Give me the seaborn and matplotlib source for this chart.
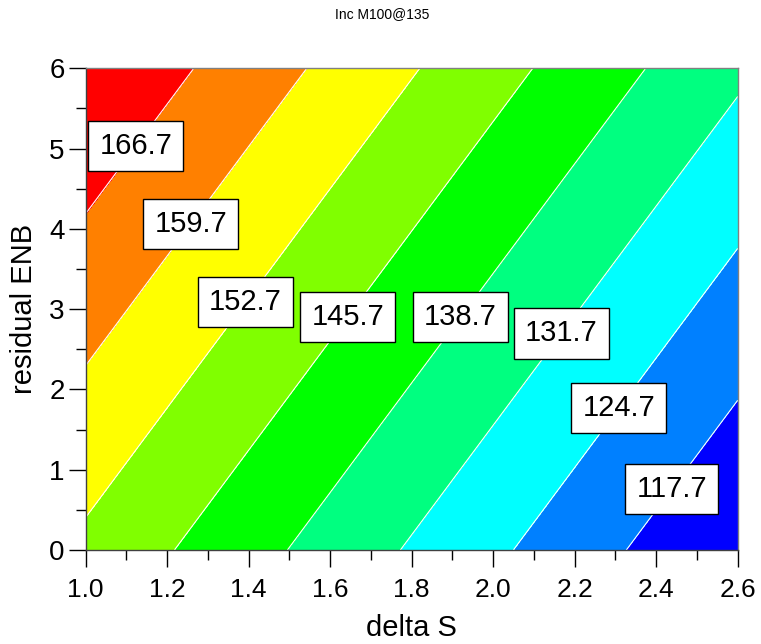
import numpy as np
import matplotlib
matplotlib.use("Agg")
import matplotlib.pyplot as plt
import seaborn as sns

# grid (z values at the grid nodes)
delta_s = [1.0, 1.4, 1.8, 2.2, 2.6]
resid_enb = [0, 2, 4, 6]
z_y0 = [151.2, 141.1, 131.0, 120.9, 110.8]
z_y2 = [158.6, 148.5, 138.4, 128.3, 118.2]
z_y4 = [166.0, 155.9, 145.8, 135.7, 125.6]
z_y6 = [173.4, 163.3, 153.2, 143.1, 133.0]

levels = [117.7, 124.7, 131.7, 138.7, 145.7, 152.7, 159.7, 166.7]
band_colors = ["#0000ff", "#0080ff", "#00ffff", "#00ff80", "#00ff00",
               "#80ff00", "#ffff00", "#ff8000", "#ff0000"]
# where the boxed labels sit on each line
label_xy = [(2.436, 0.77), (2.304, 1.78), (2.164, 2.71), (1.919, 2.90),
            (1.644, 2.90), (1.391, 3.09), (1.258, 4.06), (1.123, 5.03)]

sns.set_theme(style="white")
plt.rcParams['font.family'] = ['Liberation Sans', 'DejaVu Sans']
plt.rcParams.update({"text.color": "black", "axes.labelcolor": "black",
                     "xtick.color": "black", "ytick.color": "black"})

X, Y = np.meshgrid(delta_s, resid_enb)
Z = np.array([z_y0, z_y2, z_y4, z_y6])

fig = plt.figure(figsize=(7.61, 6.44), dpi=100)
ax = fig.add_axes([0.1126, 0.146, 0.8568, 0.748])

fill_levels = [Z.min() - 1] + levels + [Z.max() + 1]
ax.contourf(X, Y, Z, levels=fill_levels, colors=band_colors)
cs = ax.contour(X, Y, Z, levels=levels, colors="white", linewidths=0.8)

labels = ax.clabel(cs, manual=label_xy, fmt="%.1f", inline=False, fontsize=21,
                   colors="black")
for t in labels:
    t.set_rotation(0)
    t.set_bbox(dict(facecolor="white", edgecolor="black", linewidth=1.0,
                    boxstyle="square,pad=0.38"))

ax.set_xlim(1.0, 2.6)
ax.set_ylim(0, 6)
ax.set_xticks(np.arange(1.0, 2.61, 0.2))
ax.set_xticks(np.arange(1.1, 2.6, 0.2), minor=True)
ax.set_yticks(range(0, 7))
ax.set_yticks(np.arange(0.5, 6, 1.0), minor=True)
ax.set_xticklabels([f"{v:.1f}" for v in np.arange(1.0, 2.61, 0.2)])

ax.tick_params(axis="both", which="major", direction="out", length=12, width=1,
               color="black", labelcolor="black",
               bottom=True, left=True, top=False, right=False)
ax.tick_params(axis="both", which="minor", direction="out", length=7, width=1,
               color="black", bottom=True, left=True, top=False, right=False)
ax.tick_params(axis="x", which="major", labelsize=19, pad=8)
ax.tick_params(axis="y", which="major", labelsize=20, pad=3)

for side in ["top", "right"]:
    ax.spines[side].set_color("#808080")
    ax.spines[side].set_linewidth(1.0)
for side in ["left", "bottom"]:
    ax.spines[side].set_color("#404040")
    ax.spines[side].set_linewidth(1.0)

ax.set_xlabel("delta S", fontsize=21, labelpad=9, color="black")
ax.set_ylabel("residual ENB", fontsize=21, labelpad=8, color="black")
fig.text(0.502, 0.978, "Inc M100@135", ha="center", va="center", fontsize=10,
         color="black")

fig.savefig("out.png", dpi=100)
